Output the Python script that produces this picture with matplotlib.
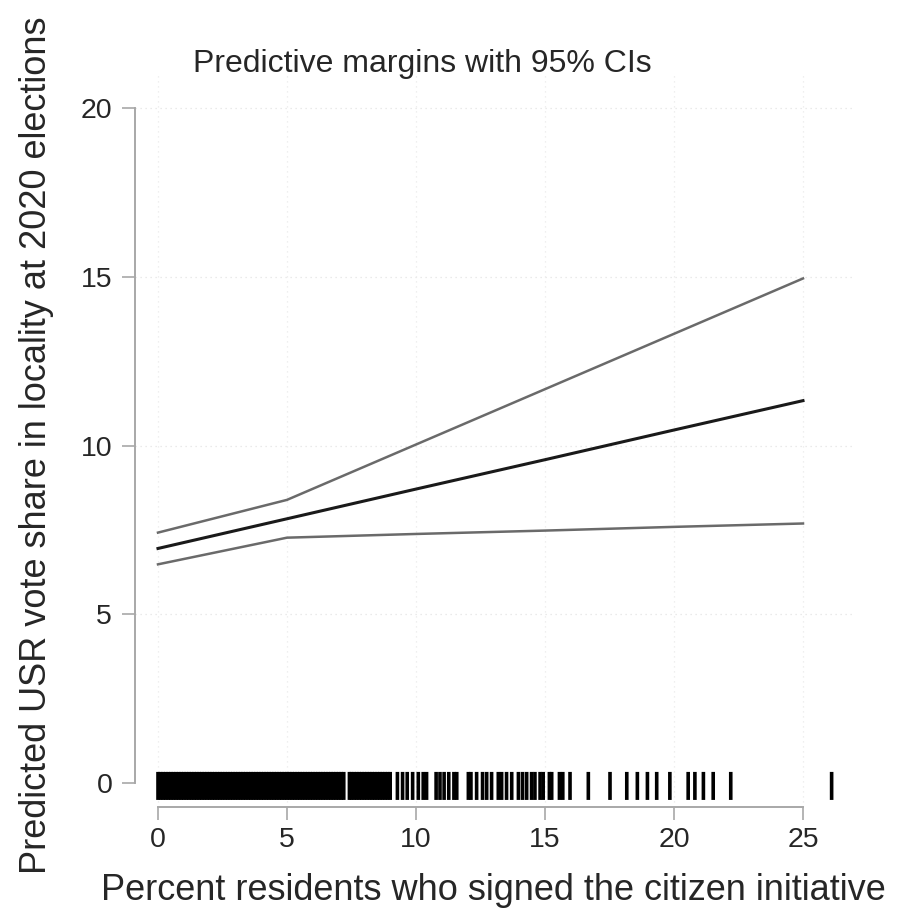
import matplotlib
matplotlib.use("Agg")
import matplotlib.pyplot as plt

plt.rcParams['font.family'] = ['Liberation Sans', 'DejaVu Sans']

# Margins evaluated at these signature percentages
x_at = [0, 5, 10, 15, 20, 25]
margin = [6.95, 7.83, 8.71, 9.58, 10.46, 11.33]
ci_upper = [7.42, 8.39, 10.03, 11.67, 13.31, 14.95]
ci_lower = [6.48, 7.27, 7.38, 7.48, 7.59, 7.69]

# Rug of observed values (percent residents who signed)
rug_values = [
    0.0, 0.1, 0.2, 0.3, 0.4, 0.5, 0.6, 0.7, 0.8, 0.9,
    1.0, 1.1, 1.2, 1.3, 1.4, 1.5, 1.6, 1.7, 1.8, 1.9,
    2.0, 2.1, 2.2, 2.3, 2.4, 2.5, 2.6, 2.7, 2.8, 2.9,
    3.0, 3.1, 3.2, 3.3, 3.4, 3.5, 3.6, 3.7, 3.8, 3.9,
    4.0, 4.1, 4.2, 4.3, 4.4, 4.5, 4.6, 4.7, 4.8, 4.9,
    5.0, 5.1, 5.2, 5.3, 5.4, 5.5, 5.6, 5.7, 5.8, 5.9,
    6.0, 6.1, 6.2, 6.3, 6.4, 6.5, 6.6, 6.7, 6.8, 6.9,
    7.0, 7.1, 7.2, 7.42, 7.5, 7.6, 7.7, 7.8, 7.9, 8.0,
    8.1, 8.2, 8.3, 8.4, 8.5, 8.6, 8.7, 8.8, 8.9, 9.0,
    9.28, 9.48, 9.66, 9.87, 10.09, 10.28, 10.41, 10.78, 10.93, 11.09,
    11.27, 11.47, 11.58, 12.03, 12.13, 12.35, 12.58, 12.74, 12.93, 13.19,
    13.32, 13.51, 13.71, 13.97, 14.13, 14.29, 14.48, 14.61, 14.81, 14.93,
    15.17, 15.26, 15.56, 15.69, 15.97, 16.68, 17.52, 18.17, 18.58, 18.97,
    19.33, 19.84, 20.55, 20.81, 21.14, 21.52, 22.2, 26.11,
]

x_ticks = [0, 5, 10, 15, 20, 25]
y_ticks = [0, 5, 10, 15, 20]

title = "Predictive margins with 95% CIs"
xlabel = "Percent residents who signed the citizen initiative"
ylabel = "Predicted USR vote share in locality at 2020 elections"

text_color = '#262626'
axis_color = '#a8a8a8'

fig = plt.figure(figsize=(8.99, 9.09), dpi=100)
ax = fig.add_axes([0.1502, 0.1122, 0.8004, 0.8061])
ax.set_xlim(-0.89, 27.0)
ax.set_ylim(-0.71, 21.0)

# grid
for yv in y_ticks[1:]:
    ax.axhline(yv, color='#e4e4e4', lw=0.9, ls=(0, (1, 3)), zorder=0)
for xv in x_ticks:
    ax.axvline(xv, color='#ebebeb', lw=0.9, ls=(0, (1, 3)), zorder=0)

ax.plot(x_at, ci_upper, color='#6a6a6a', lw=1.8, zorder=3)
ax.plot(x_at, ci_lower, color='#6a6a6a', lw=1.8, zorder=3)
ax.plot(x_at, margin, color='#1a1a1a', lw=2.2, zorder=4)

ax.vlines(rug_values, -0.5, 0.33, color='black', lw=2.6, zorder=5,
          snap=False)

for s in ['top', 'right']:
    ax.spines[s].set_visible(False)
ax.spines['left'].set_bounds(0, 20)
ax.spines['bottom'].set_bounds(0, 25)
for s in ['left', 'bottom']:
    ax.spines[s].set_color(axis_color)
    ax.spines[s].set_linewidth(1.4)

ax.set_xticks(x_ticks)
ax.set_yticks(y_ticks)
ax.tick_params(axis='both', colors=axis_color, labelcolor=text_color,
               labelsize=20.5, length=9.4, width=1.2)
ax.tick_params(axis='x', pad=5)
ax.tick_params(axis='y', pad=7)

fig.text(493 / 899, 1 - 900 / 909, xlabel, fontsize=26, color=text_color,
         ha='center', va='baseline')
fig.text(46 / 899, 1 - 445.5 / 909, ylabel, fontsize=26, color=text_color,
         rotation=90, rotation_mode='anchor', ha='center', va='baseline')
fig.text(422 / 899, 1 - 72 / 909, title, fontsize=23, color=text_color,
         ha='center', va='baseline')

fig.savefig('out.png', dpi=100)
